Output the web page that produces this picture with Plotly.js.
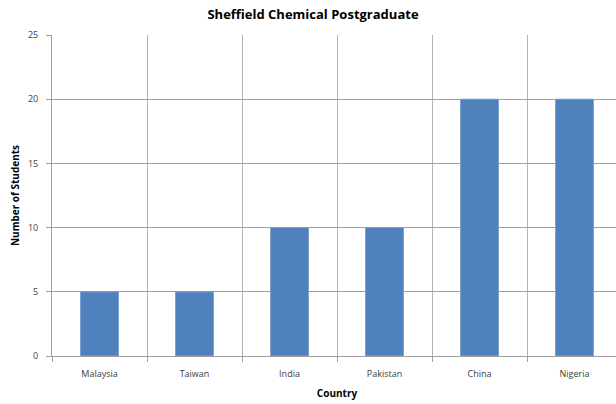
<!DOCTYPE html>
<html>
<head>
<meta charset="utf-8">
<script src="https://cdn.plot.ly/plotly-3.0.1.min.js"></script>
<style>
html, body { margin: 0; padding: 0; overflow: hidden; background: #fff; }
#chart { width: 626px; height: 404px; }
</style>
</head>
<body>
<div id="chart"></div>
<script>
const countries = ["Malaysia", "Taiwan", "India", "Pakistan", "China", "Nigeria"];
const students = [5, 5, 10, 10, 20, 20];
const yTicks = [0, 5, 10, 15, 20, 25];

const trace = {
  type: "bar",
  x: countries,
  y: students,
  width: 0.4,
  marker: { color: "#4f81bd", line: { color: "#7fa2cf", width: 1 } },
  hoverinfo: "x+y"
};

const layout = {
  width: 626,
  height: 404,
  margin: { l: 52, r: 4, t: 35, b: 48, pad: 0 },
  paper_bgcolor: "#ffffff",
  plot_bgcolor: "#ffffff",
  font: { family: "Open Sans, Noto Sans, sans-serif", size: 9, color: "#404040" },
  showlegend: false,
  title: {
    text: "Sheffield Chemical Postgraduate",
    font: { family: "Open Sans, Noto Sans, sans-serif", size: 13, color: "#000000", weight: "bold" },
    x: 0.5, xanchor: "center", xref: "container",
    y: 0.965, yanchor: "middle", yref: "container"
  },
  xaxis: {
    type: "category",
    range: [-0.5, 5.5],
    tickson: "boundaries",
    ticks: "outside",
    ticklen: 5,
    tickcolor: "#a0a0a0",
    showgrid: true,
    gridcolor: "#b4b4b4",
    gridwidth: 1,
    showline: true,
    linecolor: "#a0a0a0",
    linewidth: 1,
    zeroline: false,
    ticklabelstandoff: 9,
    tickfont: { size: 9, color: "#404040" },
    fixedrange: true,
    title: {
      text: "Country",
      font: { size: 10, color: "#000000", weight: "bold" },
      standoff: 11
    }
  },
  yaxis: {
    range: [0, 25],
    tickvals: yTicks,
    ticks: "outside",
    ticklen: 5,
    tickcolor: "#a0a0a0",
    showgrid: true,
    gridcolor: "#a0a0a0",
    gridwidth: 1,
    showline: true,
    linecolor: "#a0a0a0",
    linewidth: 1,
    zeroline: false,
    ticklabelstandoff: 6,
    tickfont: { size: 9, color: "#404040" },
    fixedrange: true,
    title: {
      text: "Number of Students",
      font: { size: 10, color: "#000000", weight: "bold" },
      standoff: 6
    }
  },
  bargap: 0.6
};

Plotly.newPlot("chart", [trace], layout, { displayModeBar: false, staticPlot: true });
</script>
</body>
</html>
